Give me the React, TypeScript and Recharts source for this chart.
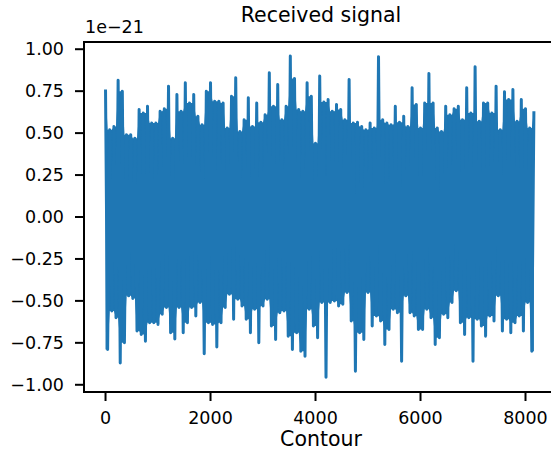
import React from "react";
import { ComposedChart, Line, Area, XAxis, YAxis, ReferenceArea } from "recharts";

// Received signal, in units of 1e-21, read off the picture as alternating
// upper / lower excursions every 40 samples (upper at even half-steps).
const upperPeaks = [
  0.76, 0.52, 0.54, 0.815, 0.75, 0.49, 0.49, 0.47, 0.64, 0.62,
  0.66, 0.56, 0.56, 0.63, 0.645, 0.78, 0.47, 0.73, 0.63, 0.8,
  0.68, 0.73, 0.6, 0.55, 0.75, 0.8, 0.69, 0.69, 0.68, 0.53,
  0.72, 0.83, 0.51, 0.58, 0.71, 0.54, 0.68, 0.565, 0.61, 0.86,
  0.66, 0.79, 0.58, 0.66, 0.96, 0.825, 0.64, 0.63, 0.8, 0.72,
  0.44, 0.84, 0.686, 0.7, 0.63, 0.67, 0.64, 0.58, 0.82, 0.56,
  0.565, 0.54, 0.52, 0.56, 0.53, 0.955, 0.58, 0.56, 0.55, 0.66,
  0.565, 0.6, 0.54, 0.77, 0.67, 0.53, 0.68, 0.855, 0.68, 0.53,
  0.51, 0.66, 0.61, 0.645, 0.66, 0.58, 0.77, 0.62, 0.895, 0.57,
  0.68, 0.68, 0.62, 0.78, 0.52, 0.746, 0.7, 0.76, 0.57, 0.7,
  0.645, 0.53, 0.63,
];
const lowerPeaks = [
  -0.79, -0.56, -0.6, -0.87, -0.75, -0.47, -0.485, -0.68, -0.7, -0.74,
  -0.63, -0.63, -0.64, -0.58, -0.54, -0.69, -0.727, -0.54, -0.69, -0.63,
  -0.54, -0.59, -0.51, -0.815, -0.63, -0.64, -0.775, -0.63, -0.54, -0.46,
  -0.61, -0.49, -0.53, -0.61, -0.69, -0.55, -0.75, -0.53, -0.49, -0.65,
  -0.73, -0.57, -0.56, -0.71, -0.79, -0.69, -0.8, -0.83, -0.55, -0.65,
  -0.72, -0.51, -0.955, -0.51, -0.5, -0.53, -0.52, -0.45, -0.62, -0.92,
  -0.69, -0.73, -0.45, -0.65, -0.59, -0.62, -0.76, -0.67, -0.55, -0.57,
  -0.86, -0.47, -0.57, -0.59, -0.67, -0.67, -0.55, -0.6, -0.76, -0.72,
  -0.58, -0.6, -0.51, -0.44, -0.63, -0.7, -0.6, -0.86, -0.61, -0.65,
  -0.71, -0.59, -0.62, -0.47, -0.68, -0.61, -0.69, -0.63, -0.59, -0.68,
  -0.51, -0.8,
];
const sampleStep = 80;
const xTicks = [0, 2000, 4000, 6000, 8000];
const yTicks = [-1, -0.75, -0.5, -0.25, 0, 0.25, 0.5, 0.75, 1];
const xDomain: [number, number] = [-410, 8600];
const yDomain: [number, number] = [-1.043, 1.043];

// The dense oscillation fills the band between neighbouring excursions:
// the band reaches the lower of two adjacent highs / higher of two adjacent lows.
const T = upperPeaks;
const B = lowerPeaks;
const clampT = (i: number) => T[Math.max(0, Math.min(T.length - 1, i))];
const clampB = (i: number) => B[Math.max(0, Math.min(B.length - 1, i))];
const midHi = (i: number) => Math.min(clampT(i), clampT(i + 1));
const midLo = (i: number) => Math.max(clampB(i - 1), clampB(i));

const data: { n: number; v: number; band: [number, number] }[] = [];
for (let i = 0; i < T.length; i++) {
  data.push({
    n: i * sampleStep,
    v: T[i],
    band: [midLo(i), Math.max(midHi(i - 1), midHi(i))],
  });
  if (i < B.length) {
    data.push({
      n: i * sampleStep + sampleStep / 2,
      v: B[i],
      band: [Math.min(midLo(i), midLo(i + 1)), midHi(i)],
    });
  }
}

const FONT = "DejaVu Sans";
const fmtY = (v: number) => v.toFixed(2).replace("-", "\u2212");

export default function App() {
  return (
    <div style={{ position: "absolute", left: 0, top: 0, width: 551, height: 452, overflow: "hidden", background: "#fff" }}>
      <ComposedChart width={600} height={452} data={data} margin={{ top: 42, left: 0, right: 43, bottom: 0 }}>
        <XAxis
          dataKey="n"
          type="number"
          domain={xDomain}
          allowDataOverflow
          ticks={xTicks}
          tickSize={9}
          tickMargin={11}
          axisLine={{ stroke: "#000", strokeWidth: 2 }}
          tickLine={{ stroke: "#000", strokeWidth: 2 }}
          tick={{ fill: "#000", fontSize: 17.5, fontFamily: FONT }}
          height={60}
        />
        <YAxis
          type="number"
          domain={yDomain}
          allowDataOverflow
          ticks={yTicks}
          tickFormatter={fmtY}
          tickSize={9}
          tickMargin={11}
          axisLine={{ stroke: "#000", strokeWidth: 2 }}
          tickLine={{ stroke: "#000", strokeWidth: 2 }}
          tick={{ fill: "#000", fontSize: 17.5, fontFamily: FONT }}
          width={84}
        />
        <ReferenceArea
          x1={xDomain[0]}
          x2={xDomain[1]}
          y1={yDomain[0]}
          y2={yDomain[1]}
          fill="none"
          stroke="#000"
          strokeWidth={2}
          ifOverflow="visible"
        />
        <Area
          dataKey="band"
          type="linear"
          stroke="none"
          fill="#1f77b4"
          fillOpacity={1}
          dot={false}
          activeDot={false}
          isAnimationActive={false}
        />
        <Line
          dataKey="v"
          type="linear"
          stroke="#1f77b4"
          strokeWidth={3}
          strokeLinejoin="round"
          dot={false}
          isAnimationActive={false}
        />
      </ComposedChart>
      <svg width={551} height={452} style={{ position: "absolute", left: 0, top: 0, pointerEvents: "none" }}>
        <text x={321} y={22} textAnchor="middle" fontFamily={FONT} fontSize={20.5} fill="#000">
          Received signal
        </text>
        <text x={85} y={33} textAnchor="start" fontFamily={FONT} fontSize={17.5} fill="#000">
          1e{"\u2212"}21
        </text>
        <text x={321} y={446} textAnchor="middle" fontFamily={FONT} fontSize={20.5} fill="#000">
          Contour
        </text>
      </svg>
    </div>
  );
}
